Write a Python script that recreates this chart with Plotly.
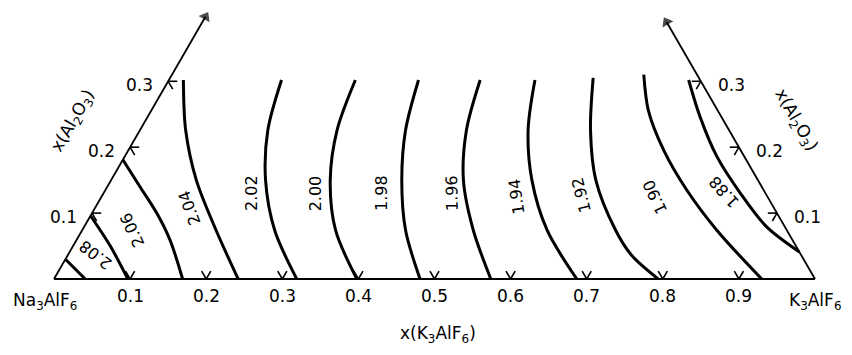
import math
import plotly.graph_objects as go

# ---------------- data (ternary: k = x(K3AlF6), a = x(Al2O3)) ----------------
iso_210_k = [0.000, 0.041]
iso_210_a = [0.030, 0.000]
iso_208_k = [0.000, 0.049, 0.097]
iso_208_a = [0.096, 0.050, 0.000]
iso_206_k = [0.000, 0.043, 0.085, 0.123, 0.169]
iso_206_a = [0.181, 0.140, 0.100, 0.059, 0.000]
iso_204_k = [0.019, 0.060, 0.112, 0.176, 0.242]
iso_204_a = [0.302, 0.226, 0.150, 0.074, 0.000]
iso_202_k = [0.148, 0.168, 0.203, 0.253, 0.319]
iso_202_a = [0.302, 0.226, 0.150, 0.074, 0.000]
iso_200_k = [0.245, 0.259, 0.288, 0.333, 0.398]
iso_200_a = [0.302, 0.226, 0.150, 0.074, 0.000]
iso_198_k = [0.328, 0.349, 0.382, 0.425, 0.481]
iso_198_a = [0.302, 0.226, 0.150, 0.074, 0.000]
iso_196_k = [0.409, 0.429, 0.463, 0.514, 0.574]
iso_196_a = [0.302, 0.226, 0.150, 0.074, 0.000]
iso_194_k = [0.481, 0.510, 0.553, 0.611, 0.687]
iso_194_a = [0.302, 0.226, 0.150, 0.074, 0.000]
iso_192_k = [0.556, 0.592, 0.637, 0.701, 0.741, 0.794]
iso_192_a = [0.305, 0.226, 0.150, 0.074, 0.036, 0.000]
iso_190_k = [0.620, 0.653, 0.703, 0.764, 0.834, 0.930]
iso_190_a = [0.310, 0.256, 0.196, 0.135, 0.074, 0.000]
iso_188_k = [0.683, 0.726, 0.778, 0.837, 0.897, 0.959]
iso_188_a = [0.302, 0.246, 0.186, 0.130, 0.079, 0.041]

iso_labels = ["2.08", "2.06", "2.04", "2.02", "2.00", "1.98", "1.96", "1.94", "1.92", "1.90", "1.88"]
base_ticks = [0.1, 0.2, 0.3, 0.4, 0.5, 0.6, 0.7, 0.8, 0.9]
base_tick_labels = ["0.1", "0.2", "0.3", "0.4", "0.5", "0.6", "0.7", "0.8", "0.9"]
side_ticks = [0.1, 0.2, 0.3]
side_tick_labels = ["0.1", "0.2", "0.3"]

# ---------------- helpers ----------------
S3 = math.sqrt(3) / 2


def txy(k, a):
    return k + a / 2.0, a * S3


FONT = dict(family="DejaVu Sans", size=17, color="black")
LFONT = dict(family="DejaVu Sans", size=16, color="black")

curves = [
    (iso_210_k, iso_210_a), (iso_208_k, iso_208_a), (iso_206_k, iso_206_a),
    (iso_204_k, iso_204_a), (iso_202_k, iso_202_a), (iso_200_k, iso_200_a),
    (iso_198_k, iso_198_a), (iso_196_k, iso_196_a), (iso_194_k, iso_194_a),
    (iso_192_k, iso_192_a), (iso_190_k, iso_190_a), (iso_188_k, iso_188_a),
]

fig = go.Figure()

for ks, as_ in curves:
    xs, ys = zip(*[txy(k, a) for k, a in zip(ks, as_)])
    fig.add_trace(go.Scatter(x=list(xs), y=list(ys), mode="lines",
                             line=dict(color="black", width=3, shape="spline", smoothing=0.9),
                             hoverinfo="skip", showlegend=False))

# base edge
bx, by = zip(*[txy(0, 0), txy(1, 0)])
fig.add_trace(go.Scatter(x=list(bx), y=list(by), mode="lines",
                         line=dict(color="black", width=2), hoverinfo="skip", showlegend=False))

# side edges with arrow heads
for (t0, t1) in [((0, 0), (0, 0.398)), ((1, 0), (0.610, 0.390))]:
    x0, y0 = txy(*t0); x1, y1 = txy(*t1)
    fig.add_trace(go.Scatter(x=[x0, x1], y=[y0, y1], mode="lines+markers",
                             line=dict(color="black", width=1.8),
                             marker=dict(symbol=["circle", "triangle-up"], size=[0, 11],
                                         color="black", angleref="previous",
                                         line=dict(width=0)),
                             hoverinfo="skip", showlegend=False))

# tick marks
L = 0.012
tx, ty = [], []
for k in base_ticks:
    for p, q in [((k, 0), (k, L)), ((k, 0), (k - L, L))]:
        x0, y0 = txy(*p); x1, y1 = txy(*q)
        tx += [x0, x1, None]; ty += [y0, y1, None]
for a in side_ticks:
    for p, q in [((0, a), (L, a)), ((0, a), (L, a - L))]:
        x0, y0 = txy(*p); x1, y1 = txy(*q)
        tx += [x0, x1, None]; ty += [y0, y1, None]
    for p, q in [((1 - a, a), (1 - a - L, a)), ((1 - a, a), (1 - a, a - L))]:
        x0, y0 = txy(*p); x1, y1 = txy(*q)
        tx += [x0, x1, None]; ty += [y0, y1, None]
fig.add_trace(go.Scatter(x=tx, y=ty, mode="lines", line=dict(color="black", width=1.6),
                         hoverinfo="skip", showlegend=False))

ann = []
# isoline labels
label_pos = [(0.0357, 0.0364, -142), (0.0662, 0.0744, -115), (0.1235, 0.1077, -110),
             (0.1948, 0.130, -90), (0.278, 0.130, -90), (0.3656, 0.130, -90),
             (0.4576, 0.130, -91), (0.5456, 0.1249, -98), (0.6297, 0.1275, -104),
             (0.7273, 0.1249, -115), (0.8142, 0.1325, -132)]
for lab, (k, a, ang) in zip(iso_labels, label_pos):
    x, y = txy(k, a)
    ann.append(dict(x=x, y=y, xref="x", yref="y", text=lab, showarrow=False,
                    textangle=ang, font=LFONT))

# base tick labels
for k, lab in zip(base_ticks, base_tick_labels):
    x, y = txy(k, 0)
    ann.append(dict(x=x, y=y - 0.0225, xref="x", yref="y", text=lab, showarrow=False, font=FONT))

# side tick labels
for a, lab in zip(side_ticks, side_tick_labels):
    x, y = txy(0, a)
    ann.append(dict(x=x - 0.038, y=y - 0.005, xref="x", yref="y", text=lab, showarrow=False, font=FONT))
    x, y = txy(1 - a, a)
    ann.append(dict(x=x + 0.040, y=y - 0.005, xref="x", yref="y", text=lab, showarrow=False, font=FONT))

# corner and axis titles
PX = 761.0


def pxy(px, py):
    return (px - 54) / PX, (279 - py) / PX


for text, (px, py), ang in [
    ("Na<sub>3</sub>AlF<sub>6</sub>", (45, 301), 0),
    ("K<sub>3</sub>AlF<sub>6</sub>", (815, 301), 0),
    ("x(K<sub>3</sub>AlF<sub>6</sub>)", (438, 334), 0),
    ("x(Al<sub>2</sub>O<sub>3</sub>)", (73, 121), -60),
    ("x(Al<sub>2</sub>O<sub>3</sub>)", (796, 120), 60),
]:
    x, y = pxy(px, py)
    ann.append(dict(x=x, y=y, xref="x", yref="y", text=text, showarrow=False,
                    textangle=ang, font=FONT))

fig.update_layout(
    width=852, height=355, margin=dict(l=0, r=0, t=0, b=0),
    paper_bgcolor="white", plot_bgcolor="white",
    xaxis=dict(range=[-54 / PX, (852 - 54) / PX], visible=False, fixedrange=True),
    yaxis=dict(range=[(279 - 355) / PX, 279 / PX], visible=False, fixedrange=True),
    annotations=ann, showlegend=False,
)

fig.write_html("out.html", config={"displayModeBar": False},
               post_script="document.body.style.margin='0px';")
